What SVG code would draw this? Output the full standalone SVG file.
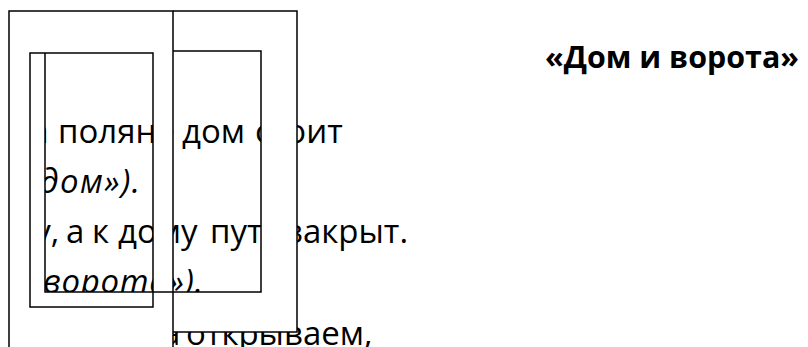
<svg xmlns="http://www.w3.org/2000/svg" width="808" height="347" viewBox="0 0 808 347">
<style>
.t{font-family:"Open Sans","Noto Sans",sans-serif;font-size:33px;fill:#000}
.i{font-style:italic}
.b{font-weight:bold;font-size:31px}
.ln{stroke:#000;stroke-width:1.5;fill:none}
.cov{fill:#fff;stroke:none}
</style>
<rect x="0" y="0" width="808" height="347" fill="#fff"/>
<g id="text">
<text class="t b" x="545" y="68" textLength="254" lengthAdjust="spacingAndGlyphs">«Дом и ворота»</text>
<text class="t" y="143"><tspan x="6">На </tspan><tspan x="58">поляне </tspan><tspan x="182">дом </tspan><tspan x="255">стоит</tspan></text>
<text class="t i" y="193"><tspan x="10">(«</tspan><tspan x="40" textLength="100">дом»).</tspan></text>
<text class="t" y="243"><tspan x="10">Ну, </tspan><tspan x="66">а </tspan><tspan x="92">к </tspan><tspan x="118">дому </tspan><tspan x="210">путь </tspan><tspan x="287">закрыт.</tspan></text>
<text class="t i" y="293"><tspan x="10">(«</tspan><tspan x="43" textLength="160">ворота»).</tspan></text>
<text class="t" y="345"><tspan x="4">Мы ворота </tspan><tspan x="186">открываем,</tspan></text>
</g>
<g id="covers">
<path class="cov" fill-rule="evenodd" d="M0,11H173V347H0Z M45,53H153V292H45Z"/>
<path class="cov" fill-rule="evenodd" d="M173,11H297V332H173Z M173,51H261V292H173Z"/>
</g>
<g id="frames">
<path class="ln" d="M9,347V11H173V347"/>
<path class="ln" d="M173,11H297V332H173"/>
<rect class="ln" x="30" y="53" width="123" height="254"/>
<path class="ln" d="M45,53V292H261V51H173"/>
</g>
</svg>
